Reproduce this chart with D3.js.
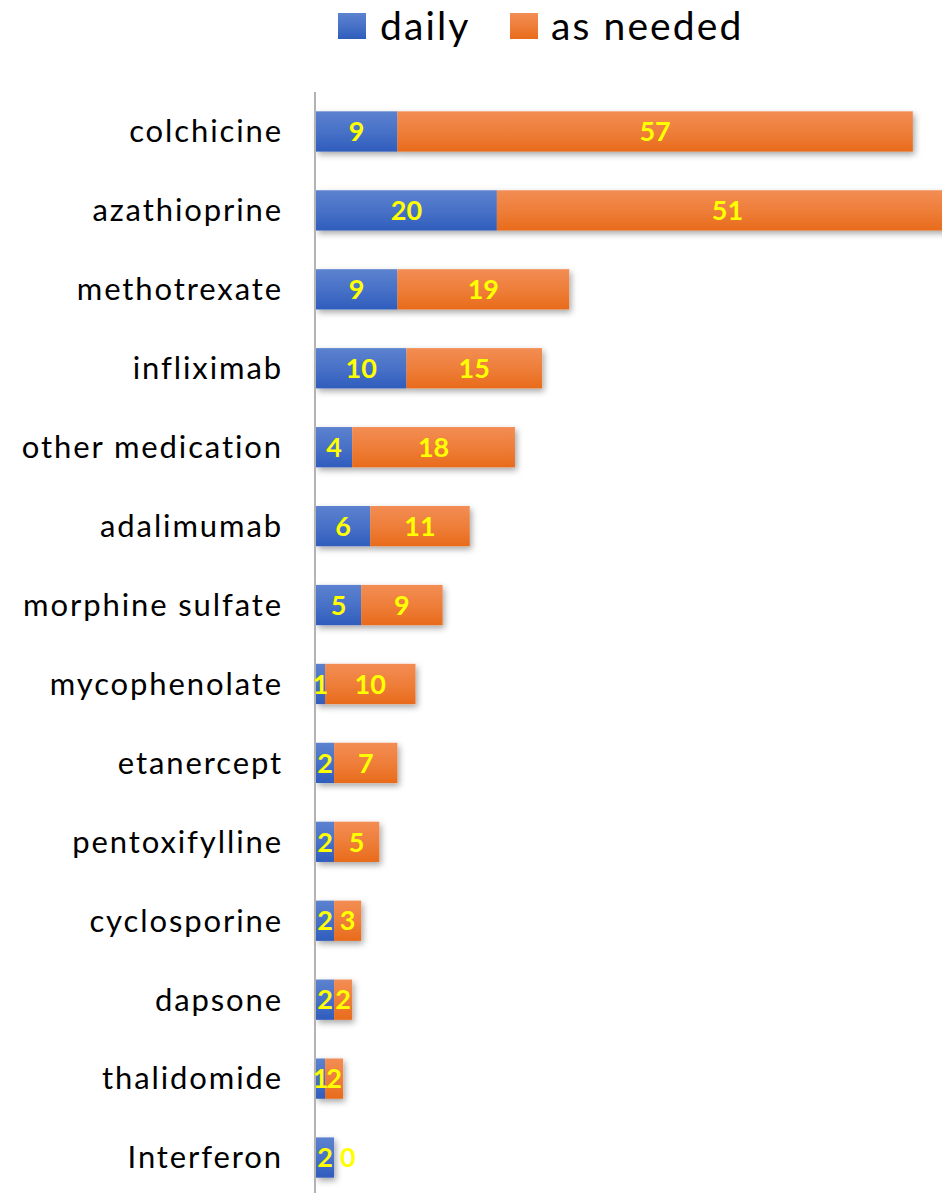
<!DOCTYPE html>
<html>
<head>
<meta charset="utf-8">
<script src="https://cdn.jsdelivr.net/npm/d3@7"></script>
<style>
  html, body { margin: 0; padding: 0; background: #fff; }
  svg { display: block; font-family: Lato, "Open Sans", sans-serif; }
</style>
</head>
<body>
<svg id="chart" width="942" height="1193"></svg>
<script>
// Medications, top to bottom
const categories = [
  "colchicine", "azathioprine", "methotrexate", "infliximab", "other medication",
  "adalimumab", "morphine sulfate", "mycophenolate", "etanercept", "pentoxifylline",
  "cyclosporine", "dapsone", "thalidomide", "Interferon"
];
const daily    = [9, 20, 9, 10, 4, 6, 5, 1, 2, 2, 2, 2, 1, 2];
const asNeeded = [57, 51, 19, 15, 18, 11, 9, 10, 7, 5, 3, 2, 2, 0];
const seriesNames = ["daily", "as needed"];

const svg = d3.select("#chart");
const W = 942, H = 1193;

const rows = categories.map((c, i) => ({ cat: c, daily: daily[i], "as needed": asNeeded[i] }));
const stacked = d3.stack().keys(seriesNames)(rows);

const x = d3.scaleLinear().domain([0, 70]).range([316, 949]);
const y = d3.scaleBand().domain(categories).range([92, 1197])
  .paddingInner(0.49).paddingOuter(0.245);

// gradients + shadow
const defs = svg.append("defs");
const grads = [
  { id: "g-daily", top: "#5c82cf", bottom: "#2f5dbd" },
  { id: "g-needed", top: "#f38d54", bottom: "#e86b1b" }
];
grads.forEach(g => {
  const lg = defs.append("linearGradient").attr("id", g.id)
    .attr("x1", 0).attr("y1", 0).attr("x2", 0).attr("y2", 1);
  lg.append("stop").attr("offset", "0%").attr("stop-color", g.top);
  lg.append("stop").attr("offset", "50%").attr("stop-color", d3.interpolateRgb(g.top, g.bottom)(0.45));
  lg.append("stop").attr("offset", "100%").attr("stop-color", g.bottom);
});
const f = defs.append("filter").attr("id", "shadow")
  .attr("x", "-10%").attr("y", "-20%").attr("width", "130%").attr("height", "160%");
f.append("feDropShadow").attr("dx", 2).attr("dy", 3).attr("stdDeviation", 3)
  .attr("flood-color", "#000").attr("flood-opacity", 0.35);

const fills = { "daily": "url(#g-daily)", "as needed": "url(#g-needed)" };

// bars
const barG = svg.append("g").attr("filter", "url(#shadow)");
stacked.forEach(s => {
  barG.selectAll(null).data(s).join("rect")
    .attr("x", d => x(d[0]))
    .attr("y", d => y(d.data.cat))
    .attr("width", d => Math.max(0, x(d[1]) - x(d[0])))
    .attr("height", y.bandwidth())
    .attr("fill", fills[s.key]);
});

// vertical axis line
svg.append("line")
  .attr("x1", 315).attr("x2", 315).attr("y1", 92).attr("y2", H)
  .attr("stroke", "#b3b3b3").attr("stroke-width", 2);

// category labels
const yAxis = d3.axisLeft(y).tickSize(0).tickPadding(0);
const axG = svg.append("g").attr("transform", "translate(283,0)").call(yAxis);
axG.select(".domain").remove();
axG.selectAll("text")
  .attr("font-size", 31).attr("fill", "#000")
  .attr("letter-spacing", 1.9)
  .attr("font-family", "Lato, 'Open Sans', sans-serif")
  .attr("text-anchor", "end").attr("dy", "0.35em");

// value labels
stacked.forEach(s => {
  svg.selectAll(null).data(s).join("text")
    .attr("x", d => {
      const v = d[1] - d[0];
      return v === 0 ? x(d[1]) + 6 : (x(d[0]) + x(d[1])) / 2;
    })
    .attr("y", d => y(d.data.cat) + y.bandwidth() / 2)
    .attr("dy", "0.36em")
    .attr("text-anchor", d => (d[1] - d[0]) === 0 ? "start" : "middle")
    .attr("font-size", 27).attr("font-weight", "bold")
    .attr("fill", "#ffff00")
    .text(d => d[1] - d[0]);
});

// legend
const legend = svg.append("g");
const legItems = [
  { key: "daily", sx: 338, tx: 380 },
  { key: "as needed", sx: 510, tx: 551 }
];
legItems.forEach(it => {
  legend.append("rect").attr("x", it.sx).attr("y", 13).attr("width", 28).attr("height", 26)
    .attr("fill", fills[it.key]);
  legend.append("text").attr("x", it.tx).attr("y", 40)
    .attr("font-size", 39).attr("letter-spacing", 2.1).attr("fill", "#000").text(it.key);
});
</script>
</body>
</html>
